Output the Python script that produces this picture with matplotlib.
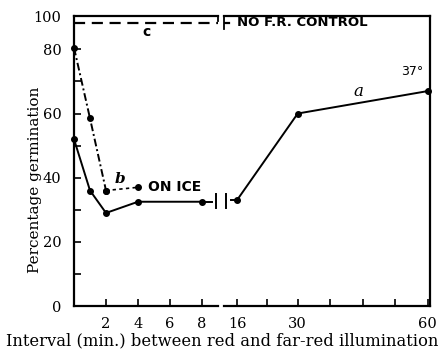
import numpy as np
import matplotlib
matplotlib.use("Agg")
import matplotlib.pyplot as plt
from matplotlib.transforms import blended_transform_factory as btf

# ---- data ----
a_left_x = [0, 1, 2, 4, 8]
a_left_y = [52, 36, 29, 32.5, 32.5]
a_right_x = [16, 30, 60]
a_right_y = [33, 60, 67]
b_x = [0, 1, 2, 4]
b_y = [81, 58.5, 36, 37]
c_level = 96
left_ticks = [2, 4, 6, 8]
right_ticks = [16, 23, 30, 37.5, 45, 52.5, 60]
right_labels = ["16", "", "30", "", "", "", "60"]
y_ticks = [0, 10, 20, 30, 40, 50, 60, 70, 80, 100]
y_labels = ["0", "", "20", "", "40", "", "60", "", "80", "100"]

plt.rcParams['font.family'] = ['DejaVu Serif']

K = 0.52
def fwd(y):
    y = np.asarray(y, dtype=float)
    return np.where(y <= 80, y, 80 + (y - 80) * K)
def inv(y):
    y = np.asarray(y, dtype=float)
    return np.where(y <= 80, y, 80 + (y - 80) / K)

fig = plt.figure(figsize=(4.4, 3.54), dpi=100)
W, H = 440, 354
ax1 = fig.add_axes([74 / W, 48 / H, 144 / W, 290 / H])
ax2 = fig.add_axes([224 / W, 48 / H, 206 / W, 290 / H], sharey=ax1)

ax1.set_yscale('function', functions=(fwd, inv))
ax1.set_ylim(0, 100)
ax1.set_xlim(0, 9)
ax2.set_xlim(13.0, 60.5)

lw = 1.4
# curve a
ax1.plot(a_left_x, a_left_y, '-', color='black', lw=lw, marker='o', ms=4, clip_on=False)
ax2.plot(a_right_x, a_right_y, '-', color='black', lw=lw, marker='o', ms=4, clip_on=False)
# curve b
ax1.plot(b_x[:3], b_y[:3], linestyle=(0, (4, 1.5, 1, 1.5)), color='black', lw=1.4,
         marker='o', ms=4, clip_on=False)
ax1.plot(b_x[2:], b_y[2:], linestyle=(0, (2, 2)), color='black', lw=1.2,
         marker='o', ms=4, clip_on=False)
# curve c
ax1.plot([0, 9], [c_level, c_level], linestyle=(0, (5, 3)), color='black', lw=1.6, clip_on=False)
ax2.plot([13.0, 14.2], [c_level, c_level], '-', color='black', lw=1.6)

# break connectors on curve a
tr1 = btf(ax1.transAxes, ax1.transData)
tr2 = btf(ax2.transAxes, ax2.transData)
ax1.plot([0.915, 0.96], [a_left_y[-1]] * 2, '-', color='black', lw=1.4, transform=tr1)
ax1.plot([0.985, 0.985], [30.5, 35], '-', color='black', lw=1.4, transform=tr1, clip_on=False)
ax2.plot([0.01, 0.01], [30.5, 35], '-', color='black', lw=1.4, transform=tr2, clip_on=False)
ax2.plot([0.035, 0.06], [a_right_y[0]] * 2, '-', color='black', lw=1.4, transform=tr2)
# break ticks on frame
ax2.plot([0.0, 0.0], [92.5, 100], '-', color='black', lw=1.3, transform=tr2, clip_on=False)
ax1.plot([1.0, 1.0], [97, 100], '-', color='black', lw=1.3, transform=tr1, clip_on=False)

# spines
for ax in (ax1, ax2):
    for s in ax.spines.values():
        s.set_linewidth(1.6)
ax1.spines['right'].set_visible(False)
ax2.spines['left'].set_visible(False)

ax1.set_yticks(y_ticks)
ax1.set_yticklabels(y_labels)
ax1.tick_params(axis='y', direction='in', length=5, width=1.2, labelsize=10.5, pad=9)
ax2.tick_params(axis='y', left=False, right=False, labelleft=False)
ax1.set_xticks(left_ticks)
ax1.set_xticklabels([str(t) for t in left_ticks])
ax2.set_xticks(right_ticks)
ax2.set_xticklabels(right_labels)
for ax in (ax1, ax2):
    ax.tick_params(axis='x', direction='in', length=5, width=1.2, labelsize=10.5, pad=8)

# annotations
ax1.text(4.56, 90.5, 'c', fontsize=10, fontweight='bold', family='DejaVu Sans',
         ha='center', va='center')
ax1.text(2.9, 39.5, 'b', fontsize=11, fontweight='bold', style='italic',
         ha='center', va='center')
ax1.text(4.6, 37, 'ON ICE', fontsize=10, fontweight='bold', family='DejaVu Sans',
         ha='left', va='center')
ax2.text(16.0, c_level, 'NO F.R. CONTROL', fontsize=9.5, fontweight='bold',
         family='DejaVu Sans', ha='left', va='center')
ax2.text(43.9, 67, 'a', fontsize=12, style='italic', ha='center', va='center')
ax2.text(56.3, 73, '37°', fontsize=9, family='DejaVu Sans', ha='center', va='center')

fig.text(35 / W, 1 - 180 / H, 'Percentage germination', rotation=90,
         fontsize=11, ha='center', va='center')
fig.text(222 / W, 1 - 341 / H, 'Interval (min.) between red and far-red illumination',
         fontsize=11.8, ha='center', va='center')

fig.savefig('out.png', dpi=100)
